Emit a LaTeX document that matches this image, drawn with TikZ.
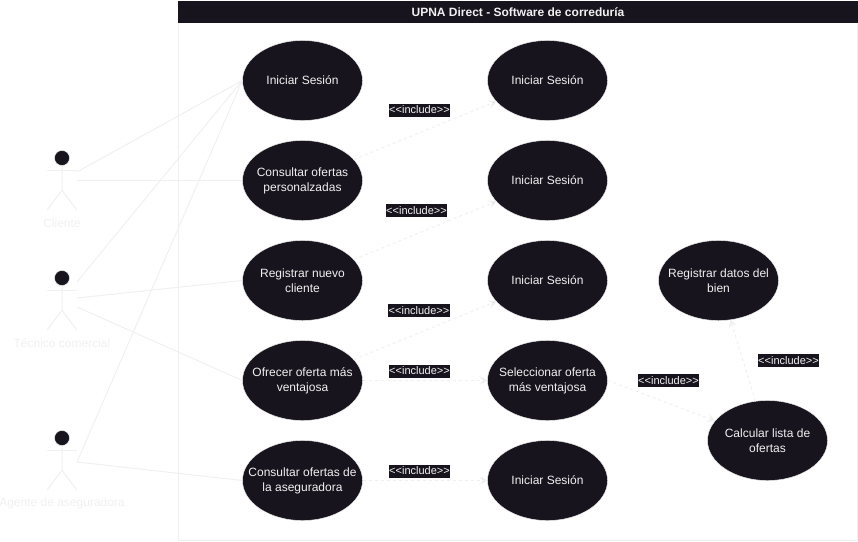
\documentclass[tikz,border=0pt]{standalone}
\usepackage{fontspec}
\setmainfont{Liberation Sans}
\usepackage{xcolor}
\usetikzlibrary{arrows.meta}
\usetikzlibrary{shapes.geometric}
\definecolor{umldark}{HTML}{18141D}
\definecolor{umllight}{HTML}{F0F0F0}
\newcommand{\inctext}{<{}<include>{}>}

\begin{document}
\begin{tikzpicture}[x=1pt,y=-1pt]
  \tikzset{usecase/.style = {shape=ellipse,draw=umllight,fill=umldark,text=umllight,minimum width=120pt,minimum height=80pt,inner xsep=-40pt,inner ysep=-10pt,align=center,font=\fontsize{12}{15}\selectfont}}
  \tikzset{includelabel/.style = {fill=umldark,text=umllight,inner xsep=0.5pt,inner ysep=0pt,minimum height=13pt,font=\fontsize{11}{13}\selectfont}}
  \tikzset{actorhead/.style = {shape=circle,draw=umllight,fill=umldark,minimum size=15pt,inner sep=0pt}}
  \tikzset{actorname/.style = {text=umllight,inner sep=0pt,font=\fontsize{12}{14.4}\selectfont}}
  \tikzset{actorline/.style = {draw=umllight,line width=1pt}}
  \tikzset{%
  tipOpen/.tip={Stealth[length=8pt,width=9pt,inset=4pt]},
}
  \tikzset{assoc/.style = {draw=umllight,line width=1pt}}
  \tikzset{includeedge/.style = {draw=umllight,line width=1pt,dash pattern=on 3pt off 3pt,-tipOpen}}

	\useasboundingbox (0,0) rectangle (858,541);

	% system frame
	\node[draw=umllight,line width=1pt,minimum width=679.5pt,minimum height=539.5pt,inner sep=0pt] (frame) at (517.75,270.75) {};
	\node[fill=umldark,text=umllight,minimum width=680pt,minimum height=22pt,inner sep=0pt,font=\fontsize{12}{14.4}\selectfont\bfseries] (title) at (518,12) {UPNA Direct - Software de correduría};

	% actors
	\foreach \name/\ypos/\txt in {cliente/158/Cliente, tecnico/278/Técnico comercial, agente/438/Agente de aseguradora}{
		\node[actorhead] (\name) at (62,\ypos) {};
		\draw[actorline] (\name.south) -- ++(0,24.5) coordinate (\name hip) -- ++(-15,20);
		\draw[actorline] (\name hip) -- ++(15,20);
		\draw[actorline] (47,\ypos+12) -- (77,\ypos+12);
		\node[actorname] (\name label) at (62,\ypos+65.5) {\txt};
	}

	% use cases
	\node[usecase] (sesionA) at (302.5,80.5) {Iniciar Sesión};
	\node[usecase] (consultar) at (302.5,180.5) {Consultar ofertas\\personalzadas};
	\node[usecase] (registrar) at (302.5,280.5) {Registrar nuevo\\cliente};
	\node[usecase] (ofrecer) at (302.5,380.5) {Ofrecer oferta más\\ventajosa};
	\node[usecase] (aseguradora) at (302.5,480.5) {Consultar ofertas de\\la aseguradora};

	\node[usecase] (sesionB) at (547.5,80.5) {Iniciar Sesión};
	\node[usecase] (sesionC) at (547.5,180.5) {Iniciar Sesión};
	\node[usecase] (sesionD) at (547.5,280.5) {Iniciar Sesión};
	\node[usecase] (seleccionar) at (547.5,380.5) {Seleccionar oferta\\más ventajosa};
	\node[usecase] (sesionE) at (547.5,480.5) {Iniciar Sesión};

	\node[usecase] (datos) at (718.5,280.5) {Registrar datos del\\bien};
	\node[usecase] (lista) at (767.5,440.5) {Calcular lista de\\ofertas};

	% actor ends
	\coordinate (clienteA) at (77,172);
	\coordinate (clienteB) at (77,180.5);
	\coordinate (tecnicoA) at (77,282);
	\coordinate (tecnicoB) at (77,298);
	\coordinate (tecnicoC) at (77,307);
	\coordinate (agenteA) at (77,462);

	\foreach \from/\to in {clienteA/sesionA, clienteB/consultar, tecnicoA/sesionA, tecnicoB/registrar, tecnicoC/ofrecer, agenteA/sesionA, agenteA/aseguradora}
	\path[assoc](\from) edge (\to.west);

	\foreach \from/\to in {consultar/sesionB, registrar/sesionC, ofrecer/sesionD, ofrecer/seleccionar, aseguradora/sesionE, lista/datos}
	\path[includeedge](\from) edge (\to);
	\draw[includeedge] (seleccionar.east) -- (lista);

	% include labels
	\node[includelabel] (incA) at (419.5,110) {\inctext};
	\node[includelabel] (incB) at (416.5,210.5) {\inctext};
	\node[includelabel] (incC) at (419,310.5) {\inctext};
	\node[includelabel] (incD) at (419.5,371) {\inctext};
	\node[includelabel] (incE) at (419.5,471) {\inctext};
	\node[includelabel] (incF) at (668.5,380.5) {\inctext};
	\node[includelabel] (incG) at (788.5,360.5) {\inctext};

\end{tikzpicture}
\end{document}
